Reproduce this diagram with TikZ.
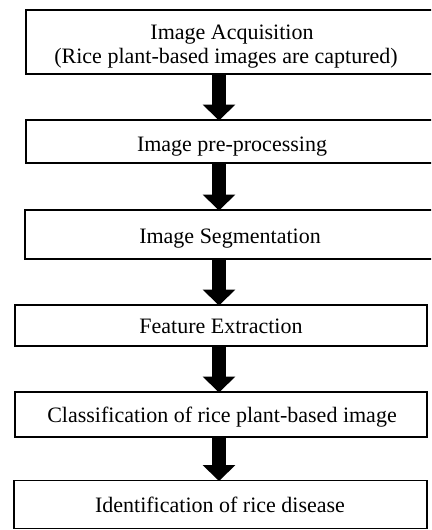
\documentclass[tikz,border=0pt]{standalone}
\usepackage{fontspec}
\setmainfont{Liberation Serif}
\usetikzlibrary{arrows.meta}
\begin{document}
\begin{tikzpicture}[x=1pt,y=1pt,
  box/.style={draw=black,line width=1.8pt,fill=white,inner sep=0pt,outer sep=0pt},
  lbl/.style={anchor=base,inner sep=0pt,font=\fontsize{22}{24}\selectfont},
  fat/.style={line width=14pt,-{Triangle[width=32pt,length=16pt]},shorten >=-0.5pt}]
\useasboundingbox (0,0) rectangle (431,-530);
\clip (0,0) rectangle (431,-530);
\node[box,minimum width=410pt,minimum height=64pt] (b1) at (231,-42) {};
\node[box,minimum width=410pt,minimum height=43pt] (b2) at (231,-141.5) {};
\node[box,minimum width=411pt,minimum height=49pt] (b3) at (230.5,-234.5) {};
\node[box,minimum width=412pt,minimum height=41pt] (b4) at (221,-325.5) {};
\node[box,minimum width=412pt,minimum height=45pt] (b5) at (221,-414.5) {};
\node[box,minimum width=413pt,minimum height=48pt] (b6) at (220.5,-504.5) {};
\node[lbl] (t1a) at (232,-39) {Image Acquisition};
\node[lbl] (t1b) at (226,-63) {(Rice plant-based images are captured)};
\node[lbl] (t2) at (232,-151) {Image pre-processing};
\node[lbl] (t3) at (230,-243) {Image Segmentation};
\node[lbl] (t4) at (221,-333) {Feature Extraction};
\node[lbl] (t5) at (222,-422) {Classification of rice plant-based image};
\node[lbl] (t6) at (220,-512) {Identification of rice disease};
\coordinate (ax) at (219,0);
\draw[fat] (ax |- b1.south) -- (ax |- b2.north);
\draw[fat] (ax |- b2.south) -- (ax |- b3.north);
\draw[fat] (ax |- b3.south) -- (ax |- b4.north);
\draw[fat] (ax |- b4.south) -- (ax |- b5.north);
\draw[fat] (ax |- b5.south) -- (ax |- b6.north);
\end{tikzpicture}
\end{document}
